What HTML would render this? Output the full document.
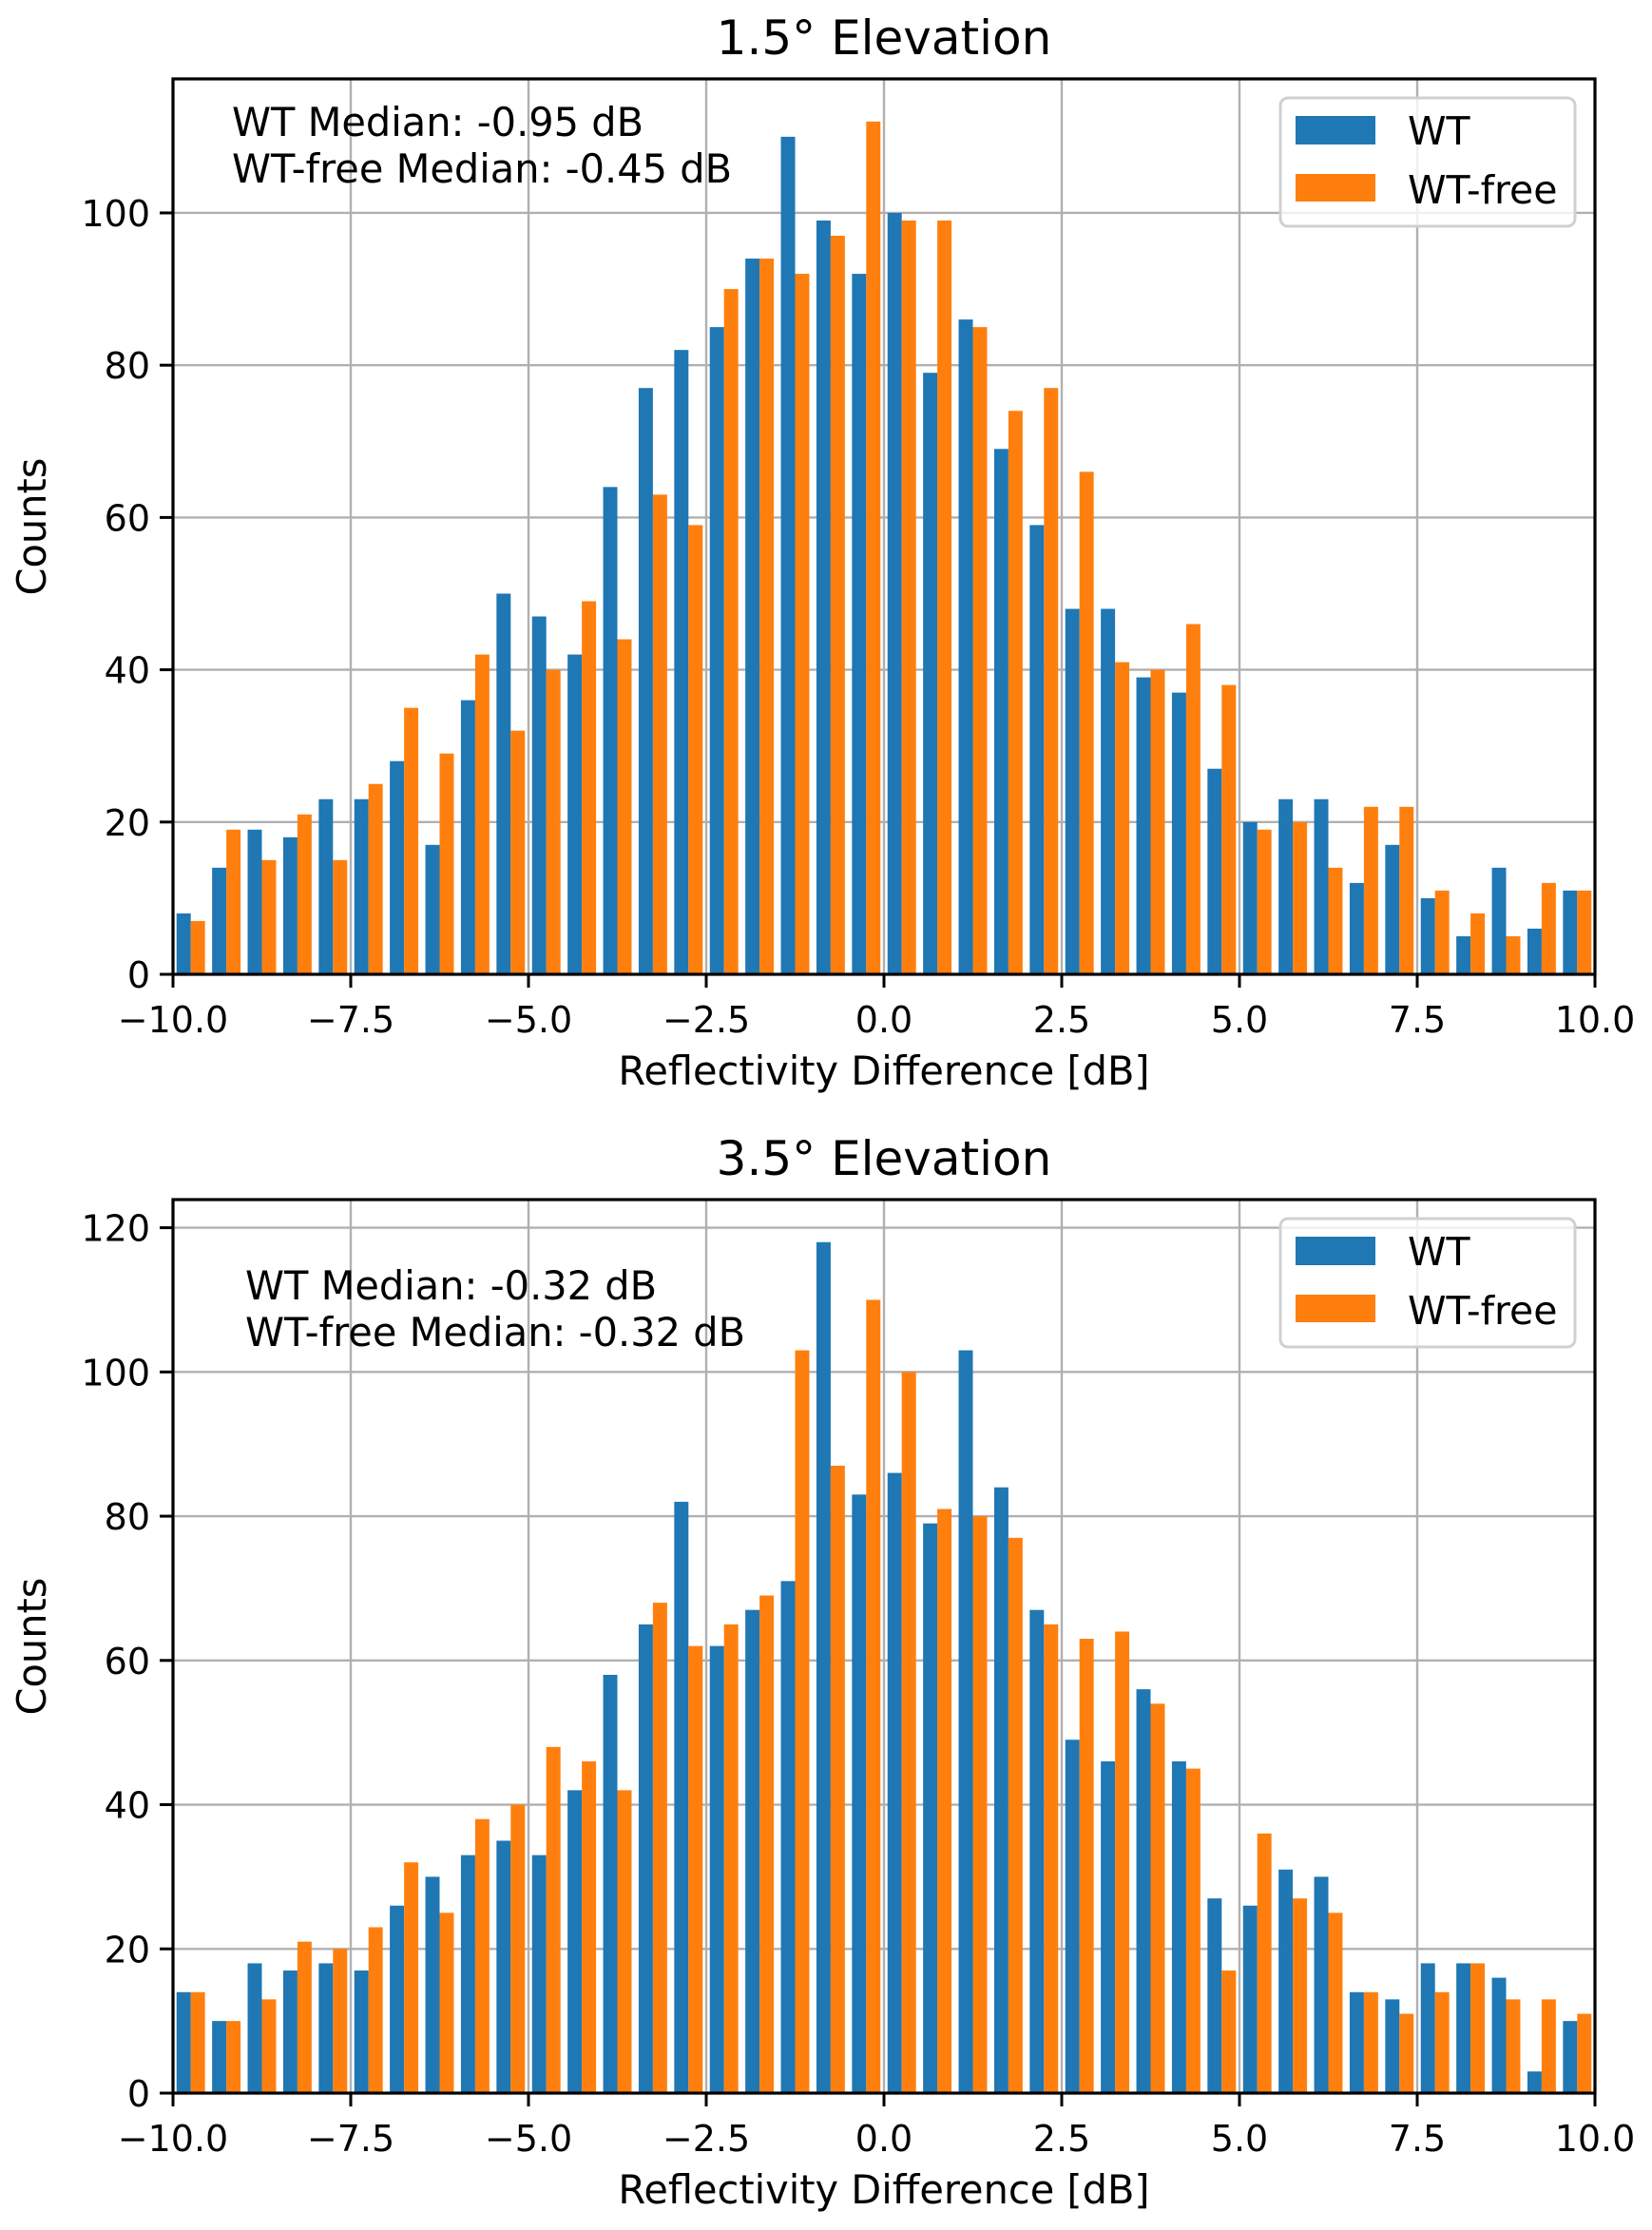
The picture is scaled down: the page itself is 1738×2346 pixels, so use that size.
<!DOCTYPE html>
<html><head><meta charset="utf-8"><style>
html,body{margin:0;padding:0;background:#fff;}
svg{display:block;font-family:"DejaVu Sans","Liberation Sans",sans-serif;}
</style></head><body>
<svg id="fig" width="1738" height="2346" viewBox="0 0 1738 2346" xmlns="http://www.w3.org/2000/svg"></svg>
<script>
const binStarts = [-10,-9.5,-9,-8.5,-8,-7.5,-7,-6.5,-6,-5.5,-5,-4.5,-4,-3.5,-3,-2.5,-2,-1.5,-1,-0.5,0,0.5,1,1.5,2,2.5,3,3.5,4,4.5,5,5.5,6,6.5,7,7.5,8,8.5,9,9.5];
const wt1 = [8,14,19,18,23,23,28,17,36,50,47,42,64,77,82,85,94,110,99,92,100,79,86,69,59,48,48,39,37,27,20,23,23,12,17,10,5,14,6,11];
const free1 = [7,19,15,21,15,25,35,29,42,32,40,49,44,63,59,90,94,92,97,112,99,99,85,74,77,66,41,40,46,38,19,20,14,22,22,11,8,5,12,11];
const wt2 = [14,10,18,17,18,17,26,30,33,35,33,42,58,65,82,62,67,71,118,83,86,79,103,84,67,49,46,56,46,27,26,31,30,14,13,18,18,16,3,10];
const free2 = [14,10,13,21,20,23,32,25,38,40,48,46,42,68,62,65,69,103,87,110,100,81,80,77,65,63,64,54,45,17,36,27,25,14,11,14,18,13,13,11];
const xTicks = [-10,-7.5,-5,-2.5,0,2.5,5,7.5,10];
const xTickLabels = ["\u221210.0","\u22127.5","\u22125.0","\u22122.5","0.0","2.5","5.0","7.5","10.0"];
const yTicks1 = [0,20,40,60,80,100];
const yTicks2 = [0,20,40,60,80,100,120];
const binWidth = 0.5;

const NS = "http://www.w3.org/2000/svg";
const svg = document.getElementById('fig');
function mk(tag, attrs, parent, text){
  const e = document.createElementNS(NS, tag);
  for (const k in attrs) e.setAttribute(k, attrs[k]);
  if (text !== undefined) e.textContent = text;
  (parent||svg).appendChild(e);
  return e;
}

function panel(o){
  const g = mk('g', {});
  
  
  const L=182, R=1678, T=o.top, B=o.bottom;
  const xs = v => L + (v+10)/20*(R-L);
  const ys = v => B - v/o.ymax*(B-T);
  xTicks.forEach(t=>{
    const l = mk('line',{x1:xs(t),x2:xs(t),y1:T,y2:B,stroke:'#b0b0b0','stroke-width':2.4},g);
    
    
  });
  o.yTicks.forEach(t=>{
    const l = mk('line',{x1:L,x2:R,y1:ys(t),y2:ys(t),stroke:'#b0b0b0','stroke-width':2.4},g);
    
    
  });
  const bw = binWidth*0.4;
  binStarts.forEach((s,i)=>{
    const c = s + binWidth/2;
    const r1 = mk('rect',{x:xs(c-bw),y:ys(o.wt[i]),width:xs(c)-xs(c-bw),height:ys(0)-ys(o.wt[i]),fill:'#1f77b4'},g);
    
    
    const r2 = mk('rect',{x:xs(c),y:ys(o.free[i]),width:xs(c+bw)-xs(c),height:ys(0)-ys(o.free[i]),fill:'#ff7f0e'},g);
    
    
  });
  const fr = mk('rect',{x:L,y:T,width:R-L,height:B-T,fill:'none',stroke:'#000','stroke-width':3.2},g);
  
  
  xTicks.forEach((t,i)=>{
    mk('line',{x1:xs(t),x2:xs(t),y1:B,y2:B+14,stroke:'#000','stroke-width':3},g);
    const tx = mk('text',{x:xs(t),y:B+61,'font-size':38,'text-anchor':'middle'},g,xTickLabels[i]);
    
    
  });
  o.yTicks.forEach(t=>{
    mk('line',{x1:L-14,x2:L,y1:ys(t),y2:ys(t),stroke:'#000','stroke-width':3},g);
    const tx = mk('text',{x:L-24,y:ys(t)+14,'font-size':38,'text-anchor':'end'},g,String(t));
    
    
  });
  const xl = mk('text',{x:(L+R)/2,y:B+116,'font-size':41.5,'text-anchor':'middle'},g,'Reflectivity Difference [dB]');
  
  
  const cy=(T+B)/2;
  const yl = mk('text',{x:48,y:cy,'font-size':41.5,'text-anchor':'middle',transform:`rotate(-90 48 ${cy})`},g,'Counts');
  
  
  const ti = mk('text',{x:(L+R)/2,y:o.titleY,'font-size':50,'text-anchor':'middle'},g,o.title);
  
  
  const a1 = mk('text',{x:o.annX,y:o.annY,'font-size':41.5},g,o.ann1);
  
  
  const a2 = mk('text',{x:o.annX,y:o.annY+49,'font-size':41.5},g,o.ann2);
  
  
  const lg = mk('g',{},g);
  
  
  const ly = T + 20;
  mk('rect',{x:1347,y:ly,width:310,height:135,rx:8,fill:'#fff','fill-opacity':0.8,stroke:'#d0d0d0','stroke-width':3},lg);
  const p1 = mk('rect',{x:1363,y:ly+19,width:84,height:30,fill:'#1f77b4'},lg);
  
  
  mk('text',{x:1481,y:ly+49,'font-size':41},lg,'WT');
  const p2 = mk('rect',{x:1363,y:ly+80,width:84,height:29,fill:'#ff7f0e'},lg);
  
  
  mk('text',{x:1481,y:ly+111,'font-size':41},lg,'WT-free');
}

panel({name:'chart-1-5-elevation',top:83,bottom:1025,ymax:117.6,yTicks:yTicks1,wt:wt1,free:free1,
  title:'1.5° Elevation',titleY:57,annX:244,annY:143,ann1:'WT Median: -0.95 dB',ann2:'WT-free Median: -0.45 dB'});
panel({name:'chart-3-5-elevation',top:1262,bottom:2202,ymax:123.9,yTicks:yTicks2,wt:wt2,free:free2,
  title:'3.5° Elevation',titleY:1236,annX:258,annY:1367,ann1:'WT Median: -0.32 dB',ann2:'WT-free Median: -0.32 dB'});
</script>
</body></html>
